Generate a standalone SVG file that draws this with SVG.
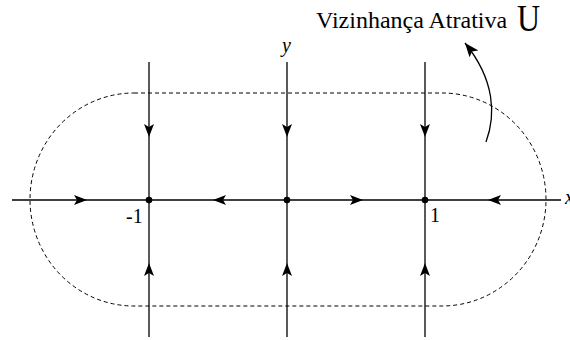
<svg xmlns="http://www.w3.org/2000/svg" xmlns:xlink="http://www.w3.org/1999/xlink" width="570" height="340" viewBox="0 0 570 340">
  <style>
    .ax { stroke: #000; stroke-width: 1.3; fill: none; }
    .dash { stroke: #000; stroke-width: 1; fill: none; stroke-dasharray: 4 3; }
    .lbl { font-family: "Liberation Serif", "Times New Roman", serif; fill: #000; }
    .it { font-style: italic; }
  </style>
  <defs>
    <path id="ah" d="M0,0 L-13,-5 L-10,0 L-13,5 Z" fill="#000"/>
    <marker id="mk" viewBox="-14 -6 15 12" refX="0" refY="0" markerWidth="15" markerHeight="12" markerUnits="userSpaceOnUse" orient="auto">
      <path d="M0,0 L-14,-5.5 L-11,0 L-14,5.5 Z" fill="#000"/>
    </marker>
  </defs>
  <rect width="570" height="340" fill="#fff"/>

  <g id="region">
    <rect class="dash" x="30" y="93" width="516" height="213" rx="104" ry="106.5"/>
  </g>

  <g id="connectors">
    <line class="ax" x1="12" y1="200" x2="561" y2="200"/>
    <line class="ax" x1="149" y1="62" x2="149" y2="337"/>
    <line class="ax" x1="287" y1="62" x2="287" y2="337"/>
    <line class="ax" x1="425" y1="62" x2="425" y2="337"/>
    <use href="#ah" transform="translate(87,200)"/>
    <use href="#ah" transform="translate(213,200) rotate(180)"/>
    <use href="#ah" transform="translate(363,200)"/>
    <use href="#ah" transform="translate(488,200) rotate(180)"/>
    <use href="#ah" transform="translate(149,137) rotate(90)"/>
    <use href="#ah" transform="translate(287,137) rotate(90)"/>
    <use href="#ah" transform="translate(425,137) rotate(90)"/>
    <use href="#ah" transform="translate(149,263) rotate(-90)"/>
    <use href="#ah" transform="translate(287,263) rotate(-90)"/>
    <use href="#ah" transform="translate(425,263) rotate(-90)"/>
    <path class="ax" d="M486,142 C496,115 495,80 465,43" marker-end="url(#mk)"/>
  </g>

  <g id="p-minus1"><circle cx="149" cy="200" r="3.3" fill="#000"/></g>
  <g id="p-origin"><circle cx="287" cy="200" r="3.3" fill="#000"/></g>
  <g id="p-plus1"><circle cx="425" cy="200" r="3.3" fill="#000"/></g>

  <g id="labels">
    <text class="lbl" x="126" y="223" font-size="20">-1</text>
    <text class="lbl" x="430" y="222" font-size="20">1</text>
    <text class="lbl it" x="282" y="52" font-size="20">y</text>
    <text class="lbl it" x="565" y="204" font-size="20">x</text>
    <text class="lbl" x="316" y="28" font-size="24">Vizinhança Atrativa</text>
    <text class="lbl" transform="translate(517,31) scale(1,1.2)" font-size="32">U</text>
  </g>
</svg>
